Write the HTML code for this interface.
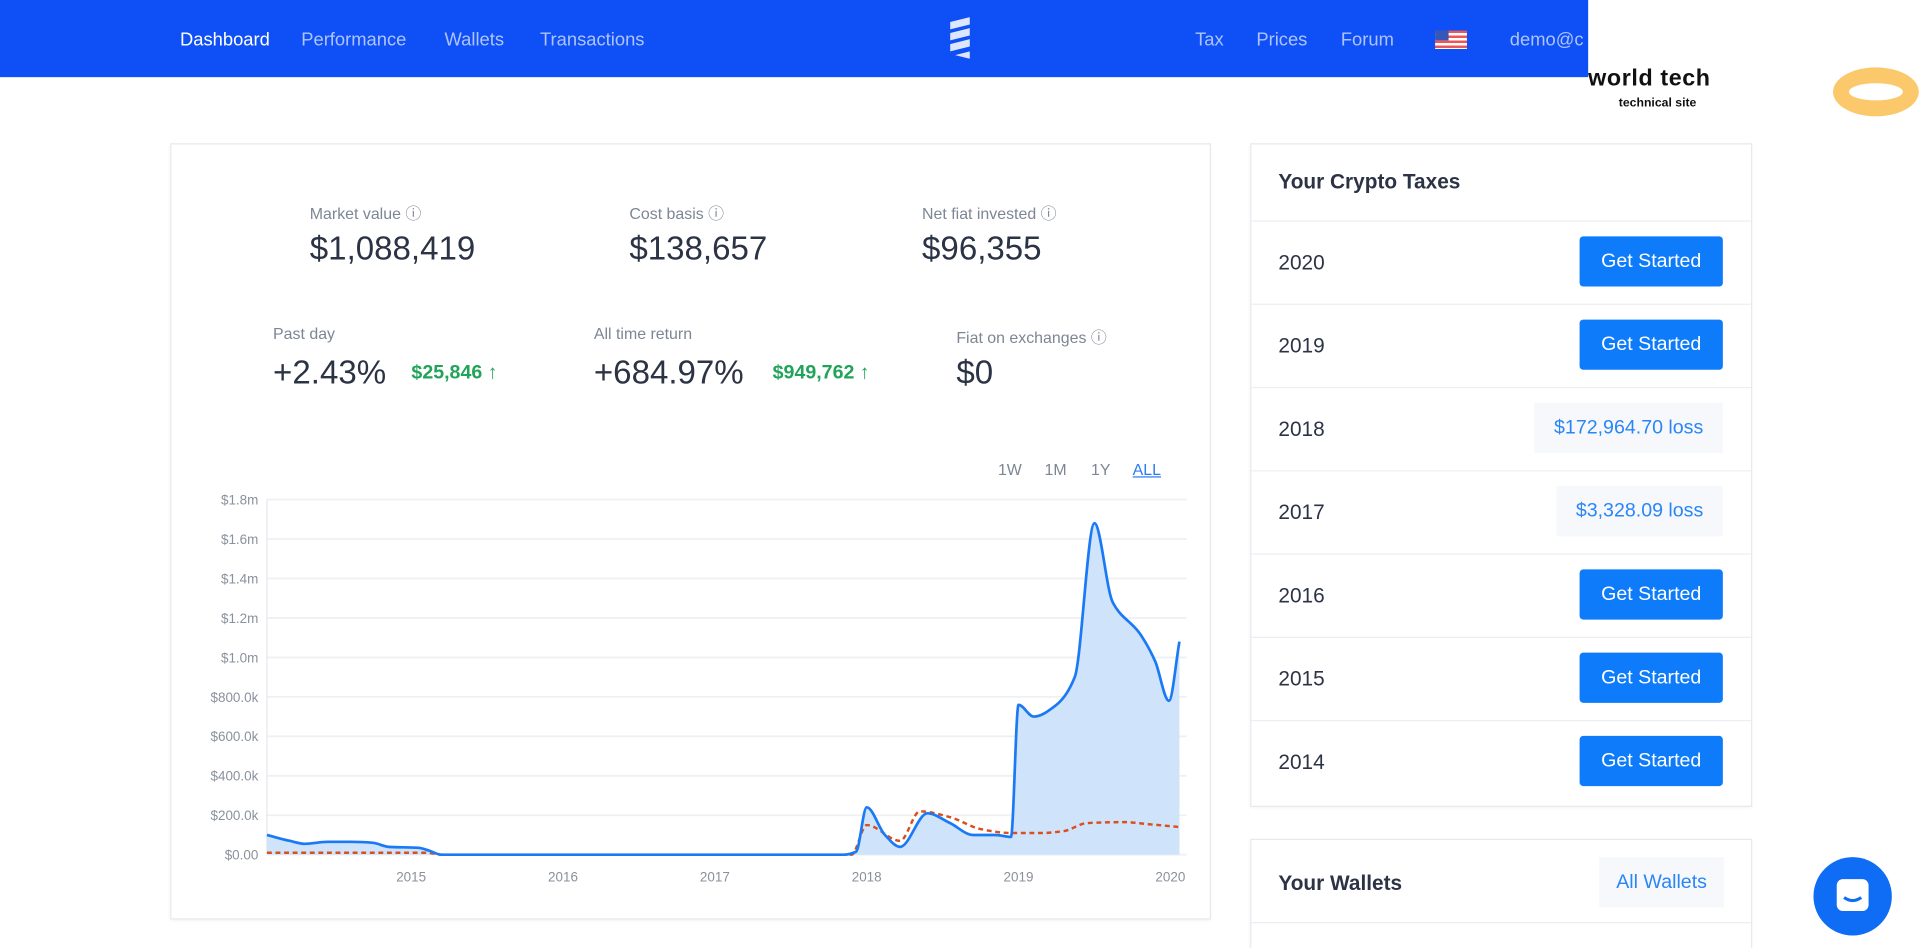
<!DOCTYPE html>
<html><head><meta charset="utf-8">
<style>
html,body{margin:0;padding:0;width:1920px;height:948px;overflow:hidden;background:#fff;font-family:"Liberation Sans",sans-serif}
#wrap{position:absolute;left:0;top:0;width:1568px;height:774px;transform:scale(1.22449);transform-origin:0 0;overflow:hidden}
.abs{position:absolute}
.nav{left:0;top:0;width:1297px;height:63px;background:#0f4ff6}
.nav span{position:absolute;top:24px;font-size:15px;color:#aec4ff}
.card{background:#fff;border:1px solid #e6e9ee;box-shadow:0 1px 3px rgba(0,0,0,.06)}
.lbl{font-size:13px;color:#7d8694}
.big{font-size:27px;color:#2b3345}
.grn{font-size:16px;color:#21a35a;font-weight:bold}
.row{position:absolute;left:0;width:408px;height:68px;border-top:1px solid #eceef2}
.row .y{position:absolute;left:22px;top:24px;font-size:17px;color:#2b3345}
.btn{position:absolute;right:23px;top:12px;width:117px;height:41px;background:#0d7bfa;color:#fff;border-radius:3px;font-size:16px;text-align:center;line-height:41px}
.loss{position:absolute;right:23px;top:12px;padding:0 16px;height:41px;background:#f6f8fb;color:#2a86f6;font-size:16px;line-height:41px}
</style></head><body>
<div id="wrap">
<div class="abs nav">
<span style="left:147px;color:#fff">Dashboard</span>
<span style="left:246px">Performance</span>
<span style="left:363px">Wallets</span>
<span style="left:441px">Transactions</span>
<svg class="abs" style="left:772px;top:14px" width="24" height="34"><path d="M4 4 L20 0 L20 6 L4 10Z M4 13 L20 9 L20 15 L4 19Z M4 22 L20 18 L20 24 L4 28Z M8 31 L20 28 L20 34Z" fill="#dce6ff"/></svg>
<span style="left:976px">Tax</span>
<span style="left:1026px">Prices</span>
<span style="left:1095px">Forum</span>
<div class="abs" style="left:1172px;top:25px;width:26px;height:15px;background:repeating-linear-gradient(#e55 0 2px,#fff 2px 4px)"><div style="width:11px;height:8px;background:#3557b7"></div></div>
<span style="left:1233px">demo@c</span>
</div>
<div class="abs" style="left:1297px;top:54px;font-size:19px;font-weight:bold;color:#111;letter-spacing:.5px">world tech</div>
<div class="abs" style="left:1322px;top:79px;font-size:10px;font-weight:bold;color:#111">technical site</div>
<div class="abs" style="left:1497px;top:55px;width:44px;height:14px;border:13px solid #fbc86b;border-radius:50%"></div>

<div class="abs card" style="left:139px;top:117px;width:848px;height:632px">
<div class="abs lbl" style="left:113px;top:46px">Market value ⓘ</div>
<div class="abs big" style="left:113px;top:70px">$1,088,419</div>
<div class="abs lbl" style="left:374px;top:46px">Cost basis ⓘ</div>
<div class="abs big" style="left:374px;top:70px">$138,657</div>
<div class="abs lbl" style="left:613px;top:46px">Net fiat invested ⓘ</div>
<div class="abs big" style="left:613px;top:70px">$96,355</div>
<div class="abs lbl" style="left:83px;top:147px">Past day</div>
<div class="abs big" style="left:83px;top:171px">+2.43%</div>
<div class="abs grn" style="left:196px;top:178px">$25,846 ↑</div>
<div class="abs lbl" style="left:345px;top:147px">All time return</div>
<div class="abs big" style="left:345px;top:171px">+684.97%</div>
<div class="abs grn" style="left:491px;top:178px">$949,762 ↑</div>
<div class="abs lbl" style="left:641px;top:147px">Fiat on exchanges ⓘ</div>
<div class="abs big" style="left:641px;top:171px">$0</div>
<div class="abs lbl" style="left:675px;top:258px">1W</div>
<div class="abs lbl" style="left:713px;top:258px">1M</div>
<div class="abs lbl" style="left:751px;top:258px">1Y</div>
<div class="abs lbl" style="left:785px;top:258px;color:#2a7cf6;text-decoration:underline">ALL</div>
</div>
<svg id="chart" class="abs" style="left:0;top:0" width="1000" height="774"></svg>

<div class="abs card" style="left:1021px;top:117px;width:408px;height:540px">
<div class="abs" style="left:22px;top:21px;font-size:17px;font-weight:bold;color:#2b3345">Your Crypto Taxes</div>
<div class="row" style="top:62px"><span class="y">2020</span><div class="btn">Get Started</div></div>
<div class="row" style="top:130px"><span class="y">2019</span><div class="btn">Get Started</div></div>
<div class="row" style="top:198px"><span class="y">2018</span><div class="loss">$172,964.70 loss</div></div>
<div class="row" style="top:266px"><span class="y">2017</span><div class="loss">$3,328.09 loss</div></div>
<div class="row" style="top:334px"><span class="y">2016</span><div class="btn">Get Started</div></div>
<div class="row" style="top:402px"><span class="y">2015</span><div class="btn">Get Started</div></div>
<div class="row" style="top:470px"><span class="y">2014</span><div class="btn">Get Started</div></div>
</div>
<div class="abs card" style="left:1021px;top:685px;width:408px;height:100px">
<div class="abs" style="left:22px;top:26px;font-size:17px;font-weight:bold;color:#2b3345">Your Wallets</div>
<div class="abs" style="right:22px;top:14px;padding:0 14px;height:41px;line-height:41px;background:#f6f8fb;color:#2a86f6;font-size:16px">All Wallets</div>
<div class="abs" style="left:0;top:67px;width:408px;border-top:1px solid #eceef2"></div>
</div>
<div class="abs" style="left:1481px;top:700px;width:64px;height:64px;border-radius:50%;background:#0f6cf5">
<svg width="64" height="64"><rect x="19" y="18" width="26" height="26" rx="5" fill="#fff"/><path d="M25 33 Q32 38 39 33" stroke="#0f6cf5" stroke-width="2.5" fill="none"/></svg></div>
</div>
<script>
const yTicks=[0,200,400,600,800,1000,1200,1400,1600,1800];
const yTickLabels=["$0.00","$200.0k","$400.0k","$600.0k","$800.0k","$1.0m","$1.2m","$1.4m","$1.6m","$1.8m"];
const xTicks=[2015,2016,2017,2018,2019,2020];
const blueT=[2014.05,2014.2,2014.3,2014.45,2014.6,2014.75,2014.85,2015.05,2015.12,2015.2,2017.85,2017.93,2018.0,2018.12,2018.22,2018.4,2018.55,2018.7,2018.85,2018.95,2019.0,2019.1,2019.25,2019.37,2019.5,2019.62,2019.8,2019.9,2019.99,2020.06];
const blueV=[100,70,55,65,65,60,40,35,20,0,0,15,240,100,40,210,160,100,100,90,760,700,760,900,1680,1280,1120,980,780,1080];
const redT=[2014.05,2015.1,2015.2,2017.9,2018.0,2018.22,2018.35,2018.55,2018.75,2018.95,2019.15,2019.3,2019.45,2019.7,2019.85,2020.06];
const redV=[10,10,0,0,150,70,220,190,130,110,110,120,160,165,155,140];
const X=t=>218+(t-2014.05)*124, Y=v=>698-v*290/1800;
const svg=document.getElementById('chart'),NS='http://www.w3.org/2000/svg';
function mk(tag,at,txt){const e=document.createElementNS(NS,tag);for(const k in at)e.setAttribute(k,at[k]);if(txt)e.textContent=txt;svg.appendChild(e);return e;}
// monotone-x cubic (no overshoot)
function smooth(p){const n=p.length,s=[],m=[];
for(let i=0;i<n-1;i++)s.push((p[i+1][1]-p[i][1])/(p[i+1][0]-p[i][0]));
m[0]=s[0];m[n-1]=s[n-2];
for(let i=1;i<n-1;i++){if(s[i-1]*s[i]<=0)m[i]=0;else{const h0=p[i][0]-p[i-1][0],h1=p[i+1][0]-p[i][0];m[i]=3*(h0+h1)/((2*h1+h0)/s[i-1]+(h1+2*h0)/s[i]);}}
let d='M'+p[0][0].toFixed(1)+','+p[0][1].toFixed(1);
for(let i=0;i<n-1;i++){const h=(p[i+1][0]-p[i][0])/3;
d+=' C'+(p[i][0]+h).toFixed(1)+','+(p[i][1]+m[i]*h).toFixed(1)+' '+(p[i+1][0]-h).toFixed(1)+','+(p[i+1][1]-m[i+1]*h).toFixed(1)+' '+p[i+1][0].toFixed(1)+','+p[i+1][1].toFixed(1);}
return d;}
yTicks.forEach((v,i)=>{
const g=mk('line',{x1:218,x2:969,y1:Y(v),y2:Y(v),stroke:'#eef0f3','stroke-width':1.5});


const t=mk('text',{x:211,y:Y(v)+4,'text-anchor':'end','font-size':11,fill:'#8a919c','font-family':'Liberation Sans'},yTickLabels[i]);


});
mk('line',{x1:218,x2:218,y1:Y(1800),y2:698,stroke:'#e3e6ea'});
xTicks.forEach(y=>{const t=mk('text',{x:X(y),y:720,'text-anchor':'middle','font-size':11,fill:'#8a919c','font-family':'Liberation Sans'},String(y));

});
const bd=smooth(blueT.map((t,i)=>[X(t),Y(blueV[i])]));
const area=mk('path',{d:bd+' L'+X(blueT[blueT.length-1])+',698 L'+X(blueT[0])+',698Z',fill:'#cfe3fa'});


const rl=mk('path',{d:smooth(redT.map((t,i)=>[X(t),Y(redV[i])])),fill:'none',stroke:'#d9501e','stroke-width':2,'stroke-dasharray':'4 3'});


const bl=mk('path',{d:bd,fill:'none',stroke:'#1a7af5','stroke-width':2.2,'stroke-linejoin':'round'});


</script>
</body></html>
